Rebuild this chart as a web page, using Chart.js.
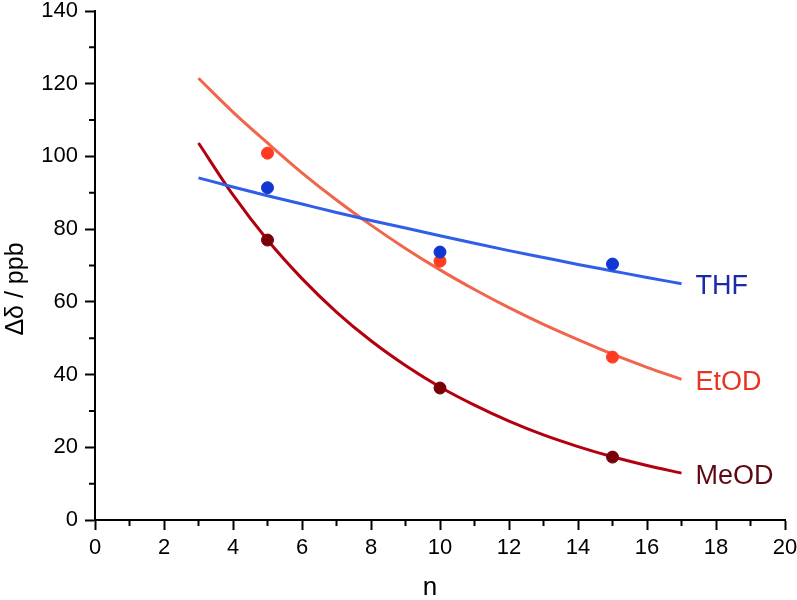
<!DOCTYPE html>
<html>
<head>
<meta charset="utf-8">
<script src="https://cdn.jsdelivr.net/npm/chart.js@4.4.1/dist/chart.umd.min.js"></script>
<style>
  html, body { margin: 0; padding: 0; background: #fff; }
  #chart { display: block; }
</style>
</head>
<body>
<canvas id="chart" width="797" height="600"></canvas>
<script>
// measured points
const nPoints = [5, 10, 15];
const thfPoints = [91.4, 73.7, 70.4];
const etodPoints = [100.9, 71.2, 44.8];
const meodPoints = [77.0, 36.3, 17.3];

// fitted curves at each integer n
const nCurve = [3, 4, 5, 6, 7, 8, 9, 10, 11, 12, 13, 14, 15, 16, 17];
const thfCurve = [94.1, 91.6, 89.2, 86.9, 84.6, 82.4, 80.3, 78.2, 76.1, 74.1, 72.2, 70.3, 68.5, 66.7, 65.0];
const etodCurve = [121.5, 112.2, 103.7, 95.5, 88.0, 81.1, 74.7, 68.8, 63.4, 58.4, 53.8, 49.6, 45.6, 42.0, 38.7];
const meodCurve = [103.7, 89.4, 77.0, 66.4, 57.2, 49.3, 42.5, 36.6, 31.6, 27.2, 23.4, 20.2, 17.4, 15.0, 12.9];

const seriesNames = ["THF", "EtOD", "MeOD"];
const lineColors = ["#2f5fe8", "#f2654a", "#b3000f"];
const pointColors = ["#1236d2", "#ff3b1f", "#7a0008"];
const labelColors = ["#1a2aa8", "#e8351f", "#5e0a14"];

const FONT = "'Liberation Sans', Arial, sans-serif";

function pairs(xs, ys) {
    return xs.map((x, i) => ({ x: x, y: ys[i] }));
}

const curves = [thfCurve, etodCurve, meodCurve];
const points = [thfPoints, etodPoints, meodPoints];

let datasets = [];
for (let i = 0; i < 3; i++) {
    datasets.push({
        label: seriesNames[i] + " fit",
        data: pairs(nCurve, curves[i]),
        showLine: true,
        borderColor: lineColors[i],
        borderWidth: 3,
        pointRadius: 0,
        cubicInterpolationMode: "monotone",
        order: 2
    });
}
for (let i = 0; i < 3; i++) {
    datasets.push({
        label: seriesNames[i],
        data: pairs(nPoints, points[i]),
        showLine: false,
        pointRadius: 6,
        pointBackgroundColor: pointColors[i],
        pointBorderColor: pointColors[i],
        pointBorderWidth: 1,
        order: 1
    });
}

// minor ticks, series labels and axis titles
const extras = {
    id: "extras",
    afterDraw(chart) {
        const ctx = chart.ctx;
        const xs = chart.scales.x;
        const ys = chart.scales.y;
        const area = chart.chartArea;

        ctx.save();
        ctx.strokeStyle = "#000";
        ctx.lineWidth = 2;
        ctx.beginPath();
        for (let v = 1; v < 20; v += 2) {
            const px = xs.getPixelForValue(v);
            ctx.moveTo(px, area.bottom);
            ctx.lineTo(px, area.bottom + 6);
        }
        for (let v = 10; v < 140; v += 20) {
            const py = ys.getPixelForValue(v);
            ctx.moveTo(area.left, py);
            ctx.lineTo(area.left - 6, py);
        }
        ctx.stroke();

        // series names next to the end of each fit
        ctx.font = "27px " + FONT;
        ctx.textAlign = "left";
        ctx.textBaseline = "middle";
        const last = nCurve.length - 1;
        for (let i = 0; i < 3; i++) {
            const px = xs.getPixelForValue(nCurve[last]) + 14;
            const py = ys.getPixelForValue(curves[i][last]) + 3;
            ctx.fillStyle = labelColors[i];
            ctx.fillText(seriesNames[i], px, py);
        }

        // axis titles
        ctx.fillStyle = "#000";
        ctx.font = "26px " + FONT;
        ctx.textAlign = "center";
        ctx.textBaseline = "middle";
        ctx.fillText("n", (area.left + area.right) / 2 - 10, 588);

        ctx.translate(16, 289);
        ctx.rotate(-Math.PI / 2);
        ctx.font = "25px " + FONT;
        ctx.fillText("\u0394\u03b4 / ppb", 0, 0);
        ctx.restore();
    }
};

const ctx = document.getElementById("chart").getContext("2d");

new Chart(ctx, {
    type: "scatter",
    data: { datasets: datasets },
    options: {
        responsive: false,
        animation: false,
        layout: { padding: { top: 11, right: 12, left: 0, bottom: 0 } },
        plugins: {
            legend: { display: false },
            tooltip: { enabled: false }
        },
        scales: {
            x: {
                type: "linear",
                min: 0,
                max: 20,
                afterFit: function(s) {
                    s.height = 80;
                    s.paddingLeft = 0;
                    s.paddingRight = 0;
                },
                border: { color: "#000", width: 2 },
                grid: {
                    drawOnChartArea: false,
                    drawTicks: true,
                    tickLength: 10,
                    tickWidth: 2,
                    tickColor: "#000"
                },
                ticks: {
                    stepSize: 2,
                    padding: 5,
                    color: "#000",
                    font: { family: FONT, size: 22 }
                }
            },
            y: {
                type: "linear",
                min: 0,
                max: 140,
                afterFit: function(s) {
                    s.width = 95;
                    s.paddingTop = 0;
                    s.paddingBottom = 0;
                },
                border: { color: "#000", width: 2 },
                grid: {
                    drawOnChartArea: false,
                    drawTicks: true,
                    tickLength: 10,
                    tickWidth: 2,
                    tickColor: "#000"
                },
                ticks: {
                    stepSize: 20,
                    padding: 7,
                    color: "#000",
                    font: { family: FONT, size: 22 }
                }
            }
        }
    },
    plugins: [extras]
});
</script>
</body>
</html>
